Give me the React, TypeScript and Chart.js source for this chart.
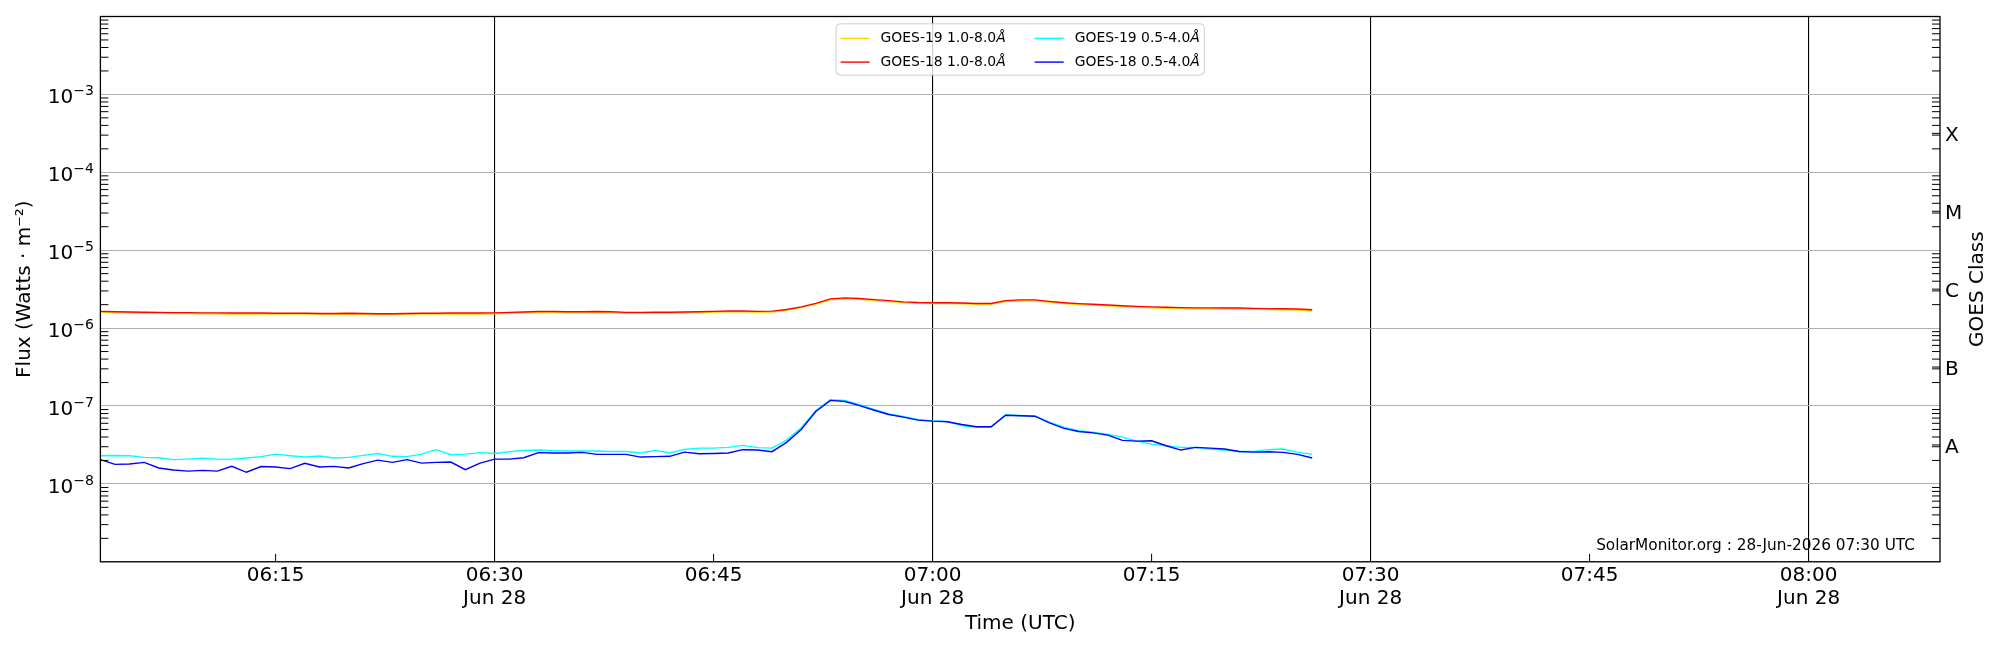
import { useEffect, useRef } from 'react';
import { Chart, registerables } from 'chart.js';

Chart.register(...registerables);

const FONT = '"DejaVu Sans", sans-serif';

// time axis, minutes after 00:00 UTC; data is 1-minute cadence from 06:03
const startMinute = 6 * 60 + 3;
const xMinMinute = 6 * 60 + 3;
const xMaxMinute = 8 * 60 + 9;
const xTickMinutes = [375, 390, 405, 420, 435, 450, 465, 480];
const dateLabel = 'Jun 28';

const yDecades = [-9, -8, -7, -6, -5, -4, -3, -2];
const yLabelledDecades = [-8, -7, -6, -5, -4, -3];
const goesClasses = ['A', 'B', 'C', 'M', 'X'];
const goesClassExponents = [-7.5, -6.5, -5.5, -4.5, -3.5];

const seriesLabels = ['GOES-19 1.0-8.0Å', 'GOES-18 1.0-8.0Å', 'GOES-19 0.5-4.0Å', 'GOES-18 0.5-4.0Å'];
const seriesColors = ['#FFD700', '#FF0000', '#00FFFF', '#0000FF'];

// 1.0-8.0 Å flux, units of 1e-6 W/m^2
const goes19Long = [
  1.60, 1.58, 1.57, 1.56, 1.55, 1.54, 1.54, 1.53, 1.53, 1.52, 1.52, 1.52, 1.51, 1.51, 1.51, 1.50,
  1.50, 1.51, 1.50, 1.49, 1.49, 1.50, 1.51, 1.51, 1.52, 1.52, 1.52, 1.53, 1.55, 1.57, 1.59, 1.59,
  1.58, 1.58, 1.59, 1.58, 1.55, 1.55, 1.56, 1.56, 1.57, 1.58, 1.60, 1.62, 1.62, 1.60, 1.61, 1.69,
  1.83, 2.03, 2.31, 2.38, 2.34, 2.26, 2.19, 2.12, 2.08, 2.07, 2.07, 2.05, 2.02, 2.02, 2.19, 2.24,
  2.24, 2.15, 2.07, 2.01, 1.97, 1.93, 1.89, 1.85, 1.82, 1.80, 1.78, 1.77, 1.77, 1.76, 1.76, 1.74,
  1.73, 1.72, 1.71, 1.67,
];
const goes18Long = [
  1.64, 1.62, 1.61, 1.60, 1.59, 1.58, 1.58, 1.57, 1.57, 1.56, 1.56, 1.56, 1.55, 1.55, 1.55, 1.54,
  1.54, 1.55, 1.54, 1.53, 1.53, 1.54, 1.55, 1.55, 1.56, 1.56, 1.56, 1.57, 1.59, 1.61, 1.63, 1.63,
  1.62, 1.62, 1.63, 1.62, 1.59, 1.59, 1.60, 1.60, 1.61, 1.62, 1.64, 1.66, 1.66, 1.64, 1.65, 1.73,
  1.87, 2.08, 2.37, 2.44, 2.40, 2.32, 2.25, 2.17, 2.13, 2.12, 2.12, 2.10, 2.07, 2.07, 2.25, 2.30,
  2.30, 2.20, 2.12, 2.06, 2.02, 1.98, 1.94, 1.90, 1.87, 1.85, 1.83, 1.82, 1.82, 1.81, 1.81, 1.79,
  1.78, 1.77, 1.76, 1.72,
];
// 0.5-4.0 Å flux, units of 1e-8 W/m^2
const goes19Short = [
  2.30, 2.32, 2.30, 2.19, 2.17, 2.05, 2.08, 2.13, 2.08, 2.08, 2.15, 2.24, 2.41, 2.30, 2.21, 2.28,
  2.15, 2.19, 2.32, 2.46, 2.26, 2.24, 2.41, 2.75, 2.37, 2.41, 2.52, 2.46, 2.59, 2.69, 2.72, 2.67,
  2.64, 2.64, 2.64, 2.61, 2.61, 2.49, 2.69, 2.49, 2.77, 2.88, 2.88, 2.94, 3.12, 2.92, 2.88, 3.65,
  5.26, 8.75, 12.0, 11.8, 10.4, 9.02, 7.90, 7.34, 6.72, 6.41, 6.35, 5.62, 5.31, 5.31, 7.65, 7.55,
  7.45, 6.20, 5.35, 4.81, 4.60, 4.32, 3.99, 3.54, 3.24, 3.09, 2.94, 2.94, 2.80, 2.72, 2.61, 2.61,
  2.75, 2.80, 2.56, 2.39,
];
const goes18Short = [
  2.05, 1.78, 1.80, 1.89, 1.60, 1.51, 1.46, 1.49, 1.46, 1.68, 1.41, 1.67, 1.65, 1.57, 1.84, 1.65,
  1.68, 1.60, 1.82, 2.02, 1.89, 2.05, 1.85, 1.89, 1.91, 1.52, 1.85, 2.08, 2.08, 2.17, 2.52, 2.49,
  2.49, 2.54, 2.39, 2.39, 2.39, 2.21, 2.24, 2.26, 2.56, 2.44, 2.46, 2.49, 2.75, 2.72, 2.59, 3.41,
  5.00, 8.51, 11.8, 11.4, 10.1, 8.83, 7.78, 7.19, 6.58, 6.39, 6.28, 5.79, 5.42, 5.42, 7.62, 7.49,
  7.40, 6.09, 5.15, 4.71, 4.52, 4.23, 3.62, 3.54, 3.58, 3.09, 2.72, 2.94, 2.88, 2.80, 2.61, 2.56,
  2.59, 2.54, 2.39, 2.15,
];

const stamp = 'SolarMonitor.org : 28-Jun-2026 07:30 UTC';

const hhmm = (m: number) => {
  const h = Math.floor(m / 60);
  const mm = Math.round(m % 60);
  return `${String(h).padStart(2, '0')}:${String(mm).padStart(2, '0')}`;
};

const toPoints = (vals: number[], unit: number) => vals.map((v, i) => ({ x: startMinute + i, y: v * unit }));

// legend label with the trailing Å in italics, like matplotlib's mathtext
const legendText = (ctx: CanvasRenderingContext2D, label: string, x: number, y: number, size: number, draw: boolean) => {
  const main = label.endsWith('Å') ? label.slice(0, -1) : label;
  ctx.font = `${size}px ${FONT}`;
  if (draw) ctx.fillText(main, x, y);
  let w = ctx.measureText(main).width;
  if (main !== label) {
    ctx.font = `italic ${size}px ${FONT}`;
    if (draw) ctx.fillText('Å', x + w, y);
    w += ctx.measureText('Å').width;
  }
  return w;
};

const goesDecor = {
  id: 'goesDecor',
  afterDatasetsDraw(chart: any) {
    const { ctx, chartArea: a, scales } = chart;
    const y = scales.y;
    const x = scales.x;
    ctx.save();
    ctx.strokeStyle = '#000';
    ctx.lineWidth = 1;
    ctx.beginPath();
    // inward minor ticks on both y spines
    for (const d of yDecades.slice(0, -1)) {
      for (let m = 2; m <= 9; m++) {
        const py = y.getPixelForValue(m * Math.pow(10, d));
        ctx.moveTo(a.left, py);
        ctx.lineTo(a.left + 8, py);
        ctx.moveTo(a.right - 8, py);
        ctx.lineTo(a.right, py);
      }
    }
    for (const e of goesClassExponents) {
      const py = scales.y2.getPixelForValue(Math.pow(10, e));
      ctx.moveTo(a.right - 8, py);
      ctx.lineTo(a.right, py);
    }
    for (const t of xTickMinutes) {
      if (t % 30 === 0) continue;
      const px = x.getPixelForValue(t);
      ctx.moveTo(px, a.bottom);
      ctx.lineTo(px, a.bottom - 8);
    }
    ctx.stroke();
    ctx.lineWidth = 1.3;
    ctx.strokeRect(a.left, a.top, a.right - a.left, a.bottom - a.top);
    ctx.restore();
  },
  afterDraw(chart: any) {
    const { ctx, chartArea: a, scales } = chart;
    ctx.save();
    ctx.fillStyle = '#000';

    // decade labels as 10 with a raised exponent
    ctx.textAlign = 'left';
    ctx.textBaseline = 'alphabetic';
    for (const e of yLabelledDecades) {
      const py = scales.y.getPixelForValue(Math.pow(10, e));
      const sup = '\u2212' + Math.abs(e);
      ctx.font = `14px ${FONT}`;
      const supW = ctx.measureText(sup).width;
      ctx.font = `20px ${FONT}`;
      const baseW = ctx.measureText('10').width;
      const right = a.left - 6.5;
      ctx.fillText('10', right - supW - baseW, py + 8.9);
      ctx.font = `14px ${FONT}`;
      ctx.fillText(sup, right - supW, py + 0.8);
    }

    // legend, two columns filled top to bottom
    const size = 13.9;
    const ds = chart.data.datasets;
    const cols = [[ds[0], ds[1]], [ds[2], ds[3]]];
    const colW = cols.map((c) => Math.max(...c.map((d: any) => legendText(ctx, d.label, 0, 0, size, false))));
    const handle = 29, gap = 11, colGap = 29, padX = 4.5;
    const boxW = padX * 2 + colW.reduce((s, w) => s + handle + gap + w, 0) + colGap;
    const bx = (a.left + a.right) / 2 - boxW / 2;
    const by = a.top + 7.3;
    const bh = 51.3;
    ctx.beginPath();
    ctx.roundRect(bx, by, boxW, bh, 4);
    ctx.fillStyle = 'rgba(255,255,255,0.8)';
    ctx.fill();
    ctx.strokeStyle = '#cccccc';
    ctx.lineWidth = 1;
    ctx.stroke();
    ctx.textBaseline = 'middle';
    ctx.textAlign = 'left';
    let cx = bx + padX;
    cols.forEach((c, ci) => {
      c.forEach((d: any, ri: number) => {
        const ry = by + 14.6 + ri * 23.7;
        ctx.strokeStyle = d.borderColor;
        ctx.lineWidth = 1.4;
        ctx.beginPath();
        ctx.moveTo(cx, ry);
        ctx.lineTo(cx + handle, ry);
        ctx.stroke();
        ctx.fillStyle = '#000';
        legendText(ctx, d.label, cx + handle + gap, ry, size, true);
      });
      cx += handle + gap + colW[ci] + colGap;
    });

    // stamp in the lower right corner
    ctx.font = `15.3px ${FONT}`;
    ctx.fillStyle = '#000';
    ctx.textAlign = 'right';
    ctx.textBaseline = 'alphabetic';
    ctx.fillText(stamp, a.right - 25, a.bottom - 12.3);

    // right axis title, reading bottom to top
    ctx.translate(a.right + 37.5, (a.top + a.bottom) / 2);
    ctx.rotate(-Math.PI / 2);
    ctx.font = `20px ${FONT}`;
    ctx.textAlign = 'center';
    ctx.textBaseline = 'middle';
    ctx.fillText('GOES Class', 0, 0);
    ctx.restore();
  },
};

const GoesXrayChart = () => {
  const chartRef = useRef<HTMLCanvasElement | null>(null);
  const chartInstance = useRef<Chart | null>(null);

  useEffect(() => {
    document.body.style.margin = '0';
    if (!chartRef.current) return;
    if (chartInstance.current) chartInstance.current.destroy();

    const series = [
      toPoints(goes19Long, 1e-6),
      toPoints(goes18Long, 1e-6),
      toPoints(goes19Short, 1e-8),
      toPoints(goes18Short, 1e-8),
    ];
    const tickFont = { family: FONT, size: 20, lineHeight: 1.15 };

    chartInstance.current = new Chart(chartRef.current, {
      type: 'line',
      data: {
        datasets: series.map((pts, i) => ({
          label: seriesLabels[i],
          data: pts,
          borderColor: seriesColors[i],
          backgroundColor: seriesColors[i],
          borderWidth: 1.4,
          pointRadius: 0,
          tension: 0,
          fill: false,
          order: 4 - i,
        })),
      },
      options: {
        responsive: true,
        maintainAspectRatio: false,
        animation: false,
        events: [],
        layout: { padding: { top: 15.4, left: 0, right: 0, bottom: 0 } },
        plugins: {
          legend: { display: false },
          tooltip: { enabled: false },
        },
        scales: {
          x: {
            type: 'linear',
            min: xMinMinute,
            max: xMaxMinute,
            afterBuildTicks: (axis: any) => {
              axis.ticks = xTickMinutes.map((v) => ({ value: v }));
            },
            afterFit: (axis: any) => {
              axis.height = 88.2;
            },
            ticks: {
              autoSkip: false,
              maxRotation: 0,
              padding: 2,
              color: '#000',
              font: tickFont,
              callback: (v: any) => (Number(v) % 30 === 0 ? [hhmm(Number(v)), dateLabel] : hhmm(Number(v))),
            },
            grid: {
              drawTicks: false,
              lineWidth: 1.1,
              color: (c: any) => (c.tick && c.tick.value % 30 === 0 ? '#000' : 'rgba(0,0,0,0)'),
            },
            border: { display: false },
            title: {
              display: true,
              text: 'Time (UTC)',
              color: '#000',
              font: { family: FONT, size: 20 },
              padding: { top: 0, bottom: 14 },
            },
          },
          y: {
            type: 'logarithmic',
            position: 'left',
            min: 1e-9,
            max: 1e-2,
            afterBuildTicks: (axis: any) => {
              axis.ticks = yDecades.map((d) => ({ value: Math.pow(10, d), major: true }));
            },
            afterFit: (axis: any) => {
              axis.width = 100.4;
            },
            // the 10^n labels are drawn by goesDecor with a raised exponent
            ticks: { autoSkip: false, callback: () => '' },
            grid: { drawTicks: false, color: '#b0b0b0', lineWidth: 1.1 },
            border: { display: false },
            title: {
              display: true,
              text: 'Flux (Watts · m⁻²)',
              color: '#000',
              font: { family: FONT, size: 20 },
              padding: { top: 13, bottom: 0 },
            },
          },
          y2: {
            type: 'logarithmic',
            position: 'right',
            min: 1e-9,
            max: 1e-2,
            afterBuildTicks: (axis: any) => {
              axis.ticks = goesClassExponents.map((e) => ({ value: Math.pow(10, e) }));
            },
            afterFit: (axis: any) => {
              axis.width = 60;
            },
            ticks: {
              autoSkip: false,
              padding: 5,
              labelOffset: 2.5,
              color: '#000',
              font: tickFont,
              callback: (_v: any, i: number) => goesClasses[i],
            },
            grid: { display: false, drawTicks: false },
            border: { display: false },
          },
        },
      },
      plugins: [goesDecor],
    });

    return () => {
      if (chartInstance.current) {
        chartInstance.current.destroy();
        chartInstance.current = null;
      }
    };
  }, []);

  return (
    <div style={{ position: 'relative', width: 2000, height: 650 }}>
      <canvas ref={chartRef}></canvas>
    </div>
  );
};

export default function App() {
  return <GoesXrayChart />;
}
